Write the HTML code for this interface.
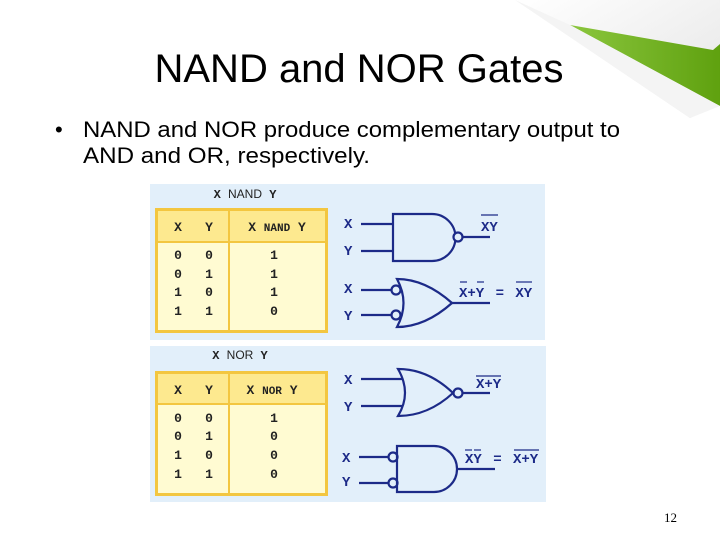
<!DOCTYPE html>
<html><head><style>
html,body{margin:0;padding:0;background:#fff;width:720px;height:540px;overflow:hidden}
svg{display:block}
</style></head><body>
<svg width="720" height="540" viewBox="0 0 720 540" xmlns="http://www.w3.org/2000/svg" font-family="Liberation Sans, sans-serif">
<defs>
<linearGradient id="curl" x1="0" y1="0" x2="1" y2="1"><stop offset="0" stop-color="#ffffff"/><stop offset="1" stop-color="#e4e4e4"/></linearGradient>
<linearGradient id="gr" x1="0" y1="0" x2="1" y2="0"><stop offset="0" stop-color="#8bc63e"/><stop offset="1" stop-color="#5fa10f"/></linearGradient>
</defs>
<polygon points="515,0 720,0 720,105 690,118" fill="url(#curl)"/>
<polygon points="570,25 713,50 720,44 720,106" fill="url(#gr)"/>
<polygon points="515,0 570,25 720,106 690,118" fill="#f4f4f4"/>
<text x="359" y="82" font-size="40" text-anchor="middle" fill="#000">NAND and NOR Gates</text>
<text x="55" y="137" font-size="22" fill="#000">•</text>
<text x="83" y="137" font-size="22" fill="#000" textLength="537" lengthAdjust="spacingAndGlyphs">NAND and NOR produce complementary output to</text>
<text x="83" y="163" font-size="22" fill="#000" textLength="287" lengthAdjust="spacingAndGlyphs">AND and OR, respectively.</text>

<g font-family="Liberation Mono, monospace" font-weight="bold">
<rect x="150" y="184" width="395" height="156" fill="#e2effa"/>
<rect x="150" y="346" width="396" height="156" fill="#e2effa"/>
<text x="245" y="198" font-size="12" text-anchor="middle" fill="#222">X <tspan font-family="Liberation Sans" font-weight="normal">NAND</tspan> Y</text>
<text x="240" y="359" font-size="12" text-anchor="middle" fill="#222">X <tspan font-family="Liberation Sans" font-weight="normal">NOR</tspan> Y</text>

<rect x="156.5" y="209.5" width="170" height="122" fill="#fffbd2" stroke="#f3c640" stroke-width="3"/>
<rect x="158" y="211" width="167" height="30" fill="#fde98f"/>
<line x1="157" y1="242" x2="326" y2="242" stroke="#f3c640" stroke-width="2"/>
<line x1="229" y1="210" x2="229" y2="331" stroke="#f3c640" stroke-width="2"/>
<g font-size="13" fill="#222" text-anchor="middle">
<text x="178" y="231">X</text><text x="209" y="231">Y</text><text x="277" y="231">X <tspan font-size="11">NAND</tspan> Y</text>
<text x="178" y="259">0</text><text x="209" y="259">0</text><text x="274" y="259">1</text>
<text x="178" y="278">0</text><text x="209" y="278">1</text><text x="274" y="278">1</text>
<text x="178" y="296">1</text><text x="209" y="296">0</text><text x="274" y="296">1</text>
<text x="178" y="315">1</text><text x="209" y="315">1</text><text x="274" y="315">0</text>
</g>
<rect x="156.5" y="372.5" width="170" height="122" fill="#fffbd2" stroke="#f3c640" stroke-width="3"/>
<rect x="158" y="374" width="167" height="29" fill="#fde98f"/>
<line x1="157" y1="404" x2="326" y2="404" stroke="#f3c640" stroke-width="2"/>
<line x1="229" y1="373" x2="229" y2="493" stroke="#f3c640" stroke-width="2"/>
<g font-size="13" fill="#222" text-anchor="middle">
<text x="178" y="394">X</text><text x="209" y="394">Y</text><text x="272" y="394">X <tspan font-size="11">NOR</tspan> Y</text>
<text x="178" y="422">0</text><text x="209" y="422">0</text><text x="274" y="422">1</text>
<text x="178" y="440">0</text><text x="209" y="440">1</text><text x="274" y="440">0</text>
<text x="178" y="459">1</text><text x="209" y="459">0</text><text x="274" y="459">0</text>
<text x="178" y="478">1</text><text x="209" y="478">1</text><text x="274" y="478">0</text>
</g>

<g stroke="#1c2a88" stroke-width="2.2" fill="none">
<line x1="361" y1="224" x2="393" y2="224"/><line x1="361" y1="251" x2="393" y2="251"/>
<path d="M393,214 L432,214 A23.5,23.5 0 0 1 432,261 L393,261 Z"/>
<circle cx="458" cy="237" r="4.5" fill="#e2effa"/>
<line x1="462" y1="237" x2="490" y2="237"/>
<line x1="361" y1="290" x2="392" y2="290"/><line x1="361" y1="315" x2="392" y2="315"/>
<circle cx="396" cy="290" r="4.5" fill="#e2effa"/><circle cx="396" cy="315" r="4.5" fill="#e2effa"/>
<path d="M397,279 Q425,279 452,303 Q425,327 397,327 Q410,303 397,279 Z"/>
<line x1="452" y1="303" x2="490" y2="303"/>
<line x1="361" y1="379" x2="402" y2="379"/><line x1="361" y1="406" x2="402" y2="406"/>
<path d="M398,369 Q428,369 453,393 Q428,416 398,416 Q412,393 398,369 Z"/>
<circle cx="458" cy="393" r="4.5" fill="#e2effa"/>
<line x1="462" y1="393" x2="490" y2="393"/>
<line x1="359" y1="457" x2="389" y2="457"/><line x1="359" y1="483" x2="389" y2="483"/>
<circle cx="393" cy="457" r="4.5" fill="#e2effa"/><circle cx="393" cy="483" r="4.5" fill="#e2effa"/>
<path d="M397,446 L434,446 A23,23 0 0 1 434,492 L397,492 Z"/>
<line x1="457" y1="469" x2="495" y2="469"/>
</g>
<g font-size="14" fill="#1c2a88" word-spacing="3">
<text x="344" y="228">X</text><text x="344" y="255">Y</text>
<text x="344" y="293">X</text><text x="344" y="320">Y</text>
<text x="344" y="384">X</text><text x="344" y="411">Y</text>
<text x="342" y="462">X</text><text x="342" y="486">Y</text>
<text x="481" y="231">XY</text>
<text x="459" y="297">X+Y = XY</text>
<text x="476" y="388">X+Y</text>
<text x="465" y="463">XY = X+Y</text>
</g>
<g stroke="#1c2a88" stroke-width="1.2">
<line x1="481" y1="215" x2="498" y2="215"/>
<line x1="460" y1="282" x2="467" y2="282"/><line x1="477" y1="282" x2="484" y2="282"/><line x1="516" y1="282" x2="532" y2="282"/>
<line x1="476" y1="376" x2="501" y2="376"/>
<line x1="465" y1="450" x2="472" y2="450"/><line x1="474" y1="450" x2="481" y2="450"/><line x1="514" y1="450" x2="539" y2="450"/>
</g>
</g>
<text x="664" y="522" font-size="13" font-family="Liberation Serif, serif" fill="#000">12</text>
</svg>
</body></html>
